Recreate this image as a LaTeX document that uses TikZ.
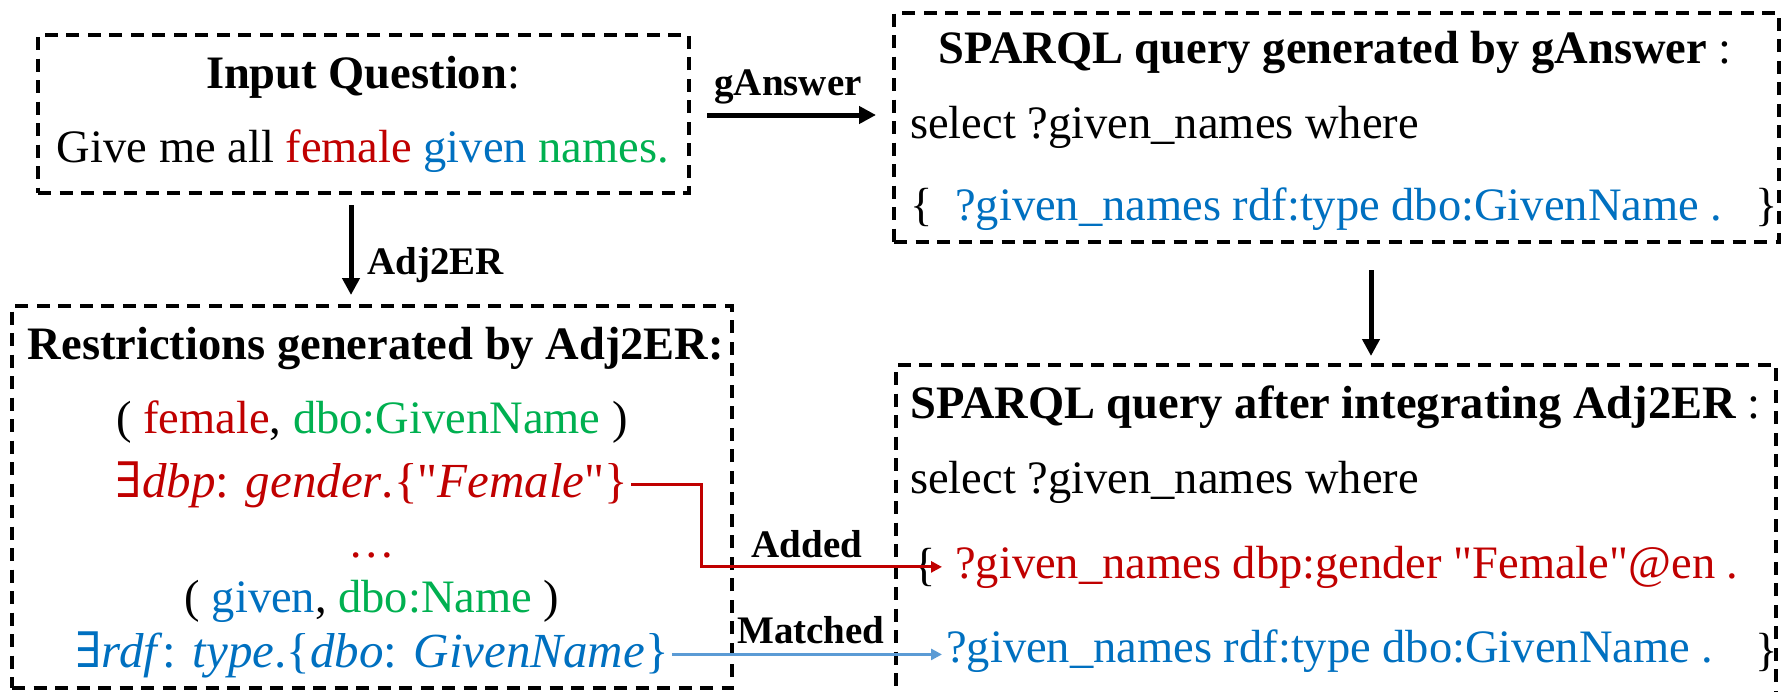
\documentclass[tikz,border=0pt]{standalone}
\usepackage{fontspec}
\setmainfont{Liberation Serif}[Ligatures=TeXOff]
\newfontfamily\symf{DejaVu Serif}
\usetikzlibrary{arrows.meta,calc}
\definecolor{cred}{HTML}{C00000}
\definecolor{cblue}{HTML}{0070C0}
\definecolor{cgreen}{HTML}{00B050}
\definecolor{clblue}{HTML}{5B9BD5}
\begin{document}
\begin{tikzpicture}[x=1pt,y=-1pt,
  dbox/.style={draw, rectangle, line width=4pt, dash pattern=on 13pt off 8.5pt, inner sep=0pt},
  txt/.style={inner sep=0pt, font=\fontsize{46.5}{50}\selectfont},
  mtxt/.style={inner sep=3pt, font=\fontsize{49}{52}\selectfont},
  lbl/.style={inner sep=0pt, font=\fontsize{39}{42}\selectfont\bfseries},
  bigarr/.style={line width=5pt, -{Triangle[length=17pt,width=17pt]}},
  redarr/.style={cred, line width=3pt, -{Triangle[length=11pt,width=11pt]}},
  bluearr/.style={clblue, line width=3pt, -{Triangle[length=11pt,width=11pt]}}
]
\useasboundingbox (0,0) rectangle (1783,691);

% boxes
\node[dbox, minimum width=651pt, minimum height=158pt] (q) at (363.5,114) {};
\node[dbox, minimum width=720pt, minimum height=382pt] (r) at (372,497) {};
\node[dbox, minimum width=885pt, minimum height=229pt] (g) at (1336.5,127.5) {};
\node[dbox, minimum width=880pt, minimum height=340pt] (a) at (1336,535) {};

% input question
\node[txt, anchor=base] (qt) at (363,88) {\textbf{Input Question}:};
\node[txt, anchor=base] (qq) at (363,162) {Give me all \textcolor{cred}{female} \textcolor{cblue}{given} \textcolor{cgreen}{names.}};

% restrictions
\node[txt, anchor=base] (rt) at (376,359) {\textbf{Restrictions generated by Adj2ER:}};
\node[txt, anchor=base] (r1) at (372,433) {( \textcolor{cred}{female}, \textcolor{cgreen}{dbo:GivenName} )};
\node[mtxt, anchor=base, text=cred] (r2) at (372,497) {{\symf ∃}\textit{dbp}: \textit{gender}.\{"\textit{Female}"\}};
\node[txt, anchor=base, text=cred] (r3) at (372,557) {…};
\node[txt, anchor=base] (r4a) at (372,612) {( \textcolor{cblue}{given}, \textcolor{cgreen}{dbo:Name} )};
\node[mtxt, anchor=base, text=cblue] (r4) at (372,667) {{\symf ∃}\textit{rdf}: \textit{type}.\{\textit{dbo}: \textit{GivenName}\}};

% SPARQL by gAnswer
\node[txt, anchor=base west] (gt) at (938,63) {\textbf{SPARQL query generated by gAnswer} :};
\node[txt, anchor=base west] (g2) at (910,138) {select ?given\_names where};
\node[txt, anchor=base west] (g3l) at (910,220) {\{};
\node[txt, anchor=base west, text=cblue] (g3) at (955,220) {?given\_names rdf:type dbo:GivenName .};
\node[txt, anchor=base west] (g3r) at (1755,220) {\}};

% SPARQL after integrating
\node[txt, anchor=base west] (at) at (910,418) {\textbf{SPARQL query after integrating Adj2ER} :};
\node[txt, anchor=base west] (a2) at (910,493) {select ?given\_names where};
\node[txt, anchor=base west] (a3l) at (913,580) {\{};
\node[txt, anchor=base west, text=cred, inner xsep=13pt] (s3) at (942,578) {?given\_names dbp:gender "Female"@en .};
\node[txt, anchor=base west, text=cblue, inner xsep=4pt] (s4) at (942,662) {?given\_names rdf:type dbo:GivenName .};
\node[txt, anchor=base west] (a4r) at (1755,665) {\}};

% arrows
\draw[bigarr] ($(q.east)+(16,1)$) -- ($(q.east -| g.west)+(-16,1)$);
\node[lbl, anchor=base] (lg) at (788,95) {gAnswer};
\draw[bigarr] ($(q.south)+(-12.5,10)$) -- ($(q.south |- r.north)+(-12.5,-9)$);
\node[lbl, anchor=base west] (la) at (367,274) {Adj2ER};
\draw[bigarr] ($(g.south)+(34.5,26)$) -- ($(g.south |- a.north)+(34.5,-7)$);

\draw[redarr] (r2.east) -- ($(r2.east)+(70,0)$) |- (s3.west);
\node[lbl, anchor=base] (ladd) at (807,557) {Added};
\draw[bluearr] (r4.east) -- (r4.east -| s4.west);
\node[lbl, anchor=base] (lmat) at (811,643) {Matched};
\end{tikzpicture}
\end{document}
